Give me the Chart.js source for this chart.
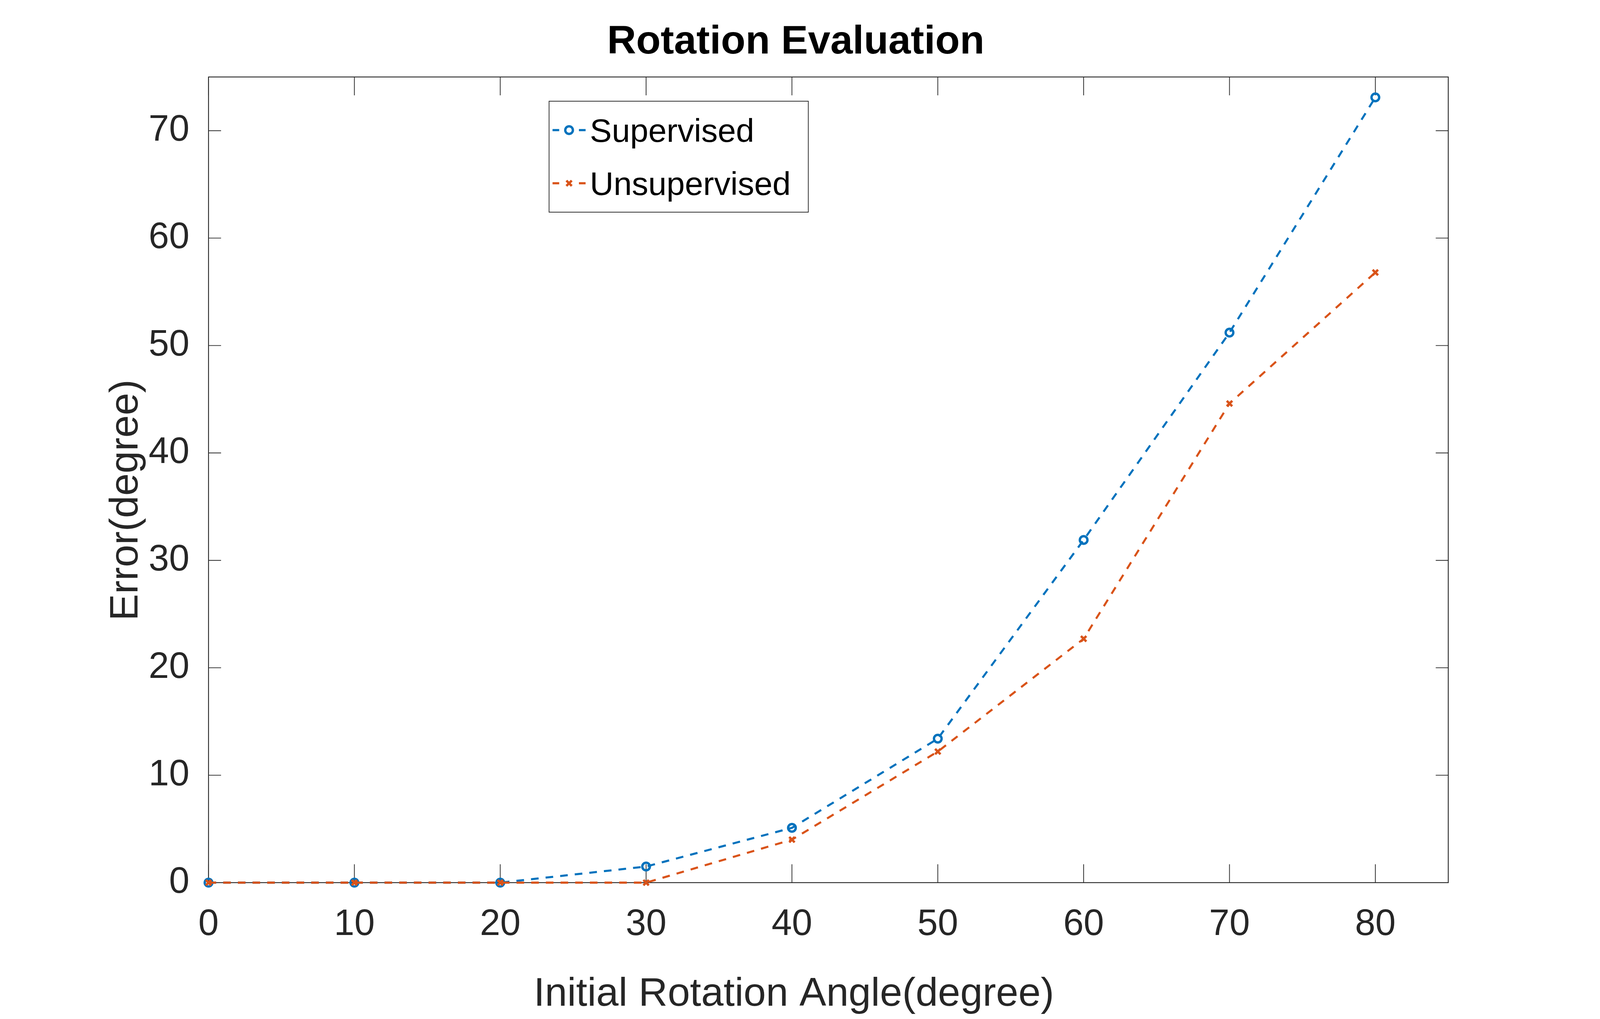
<!DOCTYPE html>
<html>
<head>
<meta charset="utf-8">
<script src="https://cdn.jsdelivr.net/npm/chart.js@4.4.1/dist/chart.umd.min.js"></script>
<style>
  html, body { margin: 0; padding: 0; background: #fff; overflow: hidden; }
</style>
</head>
<body>
<div id="wrap"><canvas id="chart"></canvas></div>
<script>
// data
const angles = [0, 10, 20, 30, 40, 50, 60, 70, 80];
const supervised = [0, 0, 0, 1.5, 5.1, 13.4, 31.9, 51.2, 73.1];
const unsupervised = [0, 0, 0, 0, 4.0, 12.2, 22.7, 44.6, 56.8];
const xTicks = [0, 10, 20, 30, 40, 50, 60, 70, 80];
const yTicks = [0, 10, 20, 30, 40, 50, 60, 70];

const titleText = 'Rotation Evaluation';
const xLabel = 'Initial Rotation Angle(degree)';
const yLabel = 'Error(degree)';

const blue = '#0072BD';
const orange = '#D95319';
const axisColor = '#262626';
const fontFamily = '"Liberation Sans", Arial, Helvetica, sans-serif';

// layout measured on the 6000x2608 reference, mapped onto the real window
const W = window.innerWidth;
const H = window.innerHeight;
const kx = W / 6000;
const ky = H / 2608;
const kf = Math.min(1, Math.max(kx, Math.min(ky, kx * 1.1)));
const X = v => v * kx;
const Y = v => v * ky;
const F = v => v * kf;

const wrap = document.getElementById('wrap');
wrap.style.width = W + 'px';
wrap.style.height = H + 'px';
const canvas = document.getElementById('chart');
canvas.width = W;
canvas.height = H;

// MATLAB-like box, inward ticks, labels and legend
const matlabAxes = {
    id: 'matlabAxes',
    beforeDatasetsDraw(chart) {
        const ctx = chart.ctx;
        const a = chart.chartArea;
        const x = chart.scales.x;
        const y = chart.scales.y;
        ctx.save();
        ctx.strokeStyle = axisColor;
        ctx.lineWidth = F(3);
        ctx.strokeRect(a.left, a.top, a.right - a.left, a.bottom - a.top);
        ctx.lineWidth = F(2.5);
        ctx.beginPath();
        x.ticks.forEach(t => {
            const p = x.getPixelForValue(t.value);
            ctx.moveTo(p, a.bottom);
            ctx.lineTo(p, a.bottom - Y(47));
            ctx.moveTo(p, a.top);
            ctx.lineTo(p, a.top + Y(47));
        });
        y.ticks.forEach(t => {
            const p = y.getPixelForValue(t.value);
            ctx.moveTo(a.left, p);
            ctx.lineTo(a.left + X(47), p);
            ctx.moveTo(a.right, p);
            ctx.lineTo(a.right - X(47), p);
        });
        ctx.stroke();
        ctx.restore();
    },
    afterDraw(chart) {
        const ctx = chart.ctx;
        ctx.save();
        // title
        ctx.fillStyle = '#000';
        ctx.font = 'bold ' + F(137) + 'px ' + fontFamily;
        ctx.textAlign = 'center';
        ctx.textBaseline = 'alphabetic';
        ctx.fillText(titleText, X(2984), Y(137));
        // axis labels
        ctx.fillStyle = axisColor;
        ctx.font = F(137) + 'px ' + fontFamily;
        ctx.fillText(xLabel, X(2977), Y(2574));
        // keep the rotated label clear of the tick labels
        const a = chart.chartArea;
        ctx.font = F(125) + 'px ' + fontFamily;
        const tickW = ctx.measureText('70').width;
        const tickLeft = a.left - X(60) - tickW;
        const yBase = Math.min(X(543), tickLeft - F(18) - F(137) * 0.22);
        ctx.font = F(137) + 'px ' + fontFamily;
        ctx.save();
        ctx.translate(yBase, Y(1280));
        ctx.rotate(-Math.PI / 2);
        ctx.fillText(yLabel, 0, 0);
        ctx.restore();

        // legend
        ctx.font = F(112) + 'px ' + fontFamily;
        const textX = X(2212);
        const widest = Math.max(...chart.data.datasets.map(ds => ctx.measureText(ds.label).width));
        const boxL = X(2059);
        const boxR = Math.max(X(2987), textX + widest + F(60));
        ctx.fillStyle = '#fff';
        ctx.fillRect(boxL, Y(259), boxR - boxL, Y(284));
        ctx.strokeStyle = axisColor;
        ctx.lineWidth = F(2.5);
        ctx.strokeRect(boxL, Y(259), boxR - boxL, Y(284));
        const rows = [333, 469];
        chart.data.datasets.forEach((ds, i) => {
            const ry = Y(rows[i]);
            ctx.strokeStyle = ds.borderColor;
            ctx.lineWidth = ds.borderWidth;
            ctx.setLineDash([]);
            ctx.beginPath();
            ctx.moveTo(X(2072), ry); ctx.lineTo(X(2097), ry);
            ctx.moveTo(X(2171), ry); ctx.lineTo(X(2196), ry);
            ctx.stroke();
            ctx.strokeStyle = ds.pointBorderColor;
            ctx.fillStyle = ds.pointBackgroundColor;
            ctx.lineWidth = ds.pointBorderWidth;
            Chart.helpers.drawPoint(ctx, {
                pointStyle: ds.pointStyle,
                radius: ds.pointRadius,
                borderWidth: ds.pointBorderWidth,
                rotation: 0
            }, X(2134), ry);
            ctx.fillStyle = '#000';
            ctx.font = F(112) + 'px ' + fontFamily;
            ctx.textAlign = 'left';
            ctx.textBaseline = 'alphabetic';
            ctx.fillText(ds.label, textX, ry + F(112) * 0.358);
        });
        ctx.restore();
    }
};

const chart = new Chart(canvas.getContext('2d'), {
    type: 'line',
    data: {
        datasets: [{
            label: 'Supervised',
            data: angles.map((a, i) => ({ x: a, y: supervised[i] })),
            borderColor: blue,
            borderWidth: F(7),
            borderDash: [F(26), F(24)],
            pointStyle: 'circle',
            pointRadius: F(13),
            pointBorderWidth: F(8),
            pointBorderColor: blue,
            pointBackgroundColor: 'rgba(0,0,0,0)',
            fill: false,
            tension: 0,
            clip: false,
            order: 1
        }, {
            label: 'Unsupervised',
            data: angles.map((a, i) => ({ x: a, y: unsupervised[i] })),
            borderColor: orange,
            borderWidth: F(7),
            borderDash: [F(26), F(24)],
            pointStyle: 'crossRot',
            pointRadius: F(13),
            pointBorderWidth: F(8),
            pointBorderColor: orange,
            pointBackgroundColor: orange,
            fill: false,
            tension: 0,
            clip: false,
            order: 0
        }]
    },
    options: {
        responsive: false,
        animation: false,
        layout: {
            padding: { left: 0, right: W - X(5431), top: Y(197), bottom: 0 }
        },
        plugins: {
            legend: { display: false },
            title: { display: false },
            tooltip: { enabled: false }
        },
        scales: {
            x: {
                type: 'linear',
                min: 0,
                max: 85,
                afterBuildTicks: s => { s.ticks = xTicks.map(v => ({ value: v })); },
                afterFit: s => { s.height = H - Y(2259); },
                grid: { display: false },
                border: { display: false },
                ticks: {
                    color: axisColor,
                    font: { family: fontFamily, size: F(125) },
                    padding: Y(63) - F(125) * 0.2,
                    maxRotation: 0,
                    autoSkip: false
                }
            },
            y: {
                type: 'linear',
                min: 0,
                max: 75,
                afterBuildTicks: s => { s.ticks = yTicks.map(v => ({ value: v })); },
                afterFit: s => { s.width = X(782); },
                grid: { display: false },
                border: { display: false },
                ticks: {
                    color: axisColor,
                    font: { family: fontFamily, size: F(125) },
                    padding: X(60),
                    autoSkip: false
                }
            }
        }
    },
    plugins: [matlabAxes]
});
</script>
</body>
</html>
